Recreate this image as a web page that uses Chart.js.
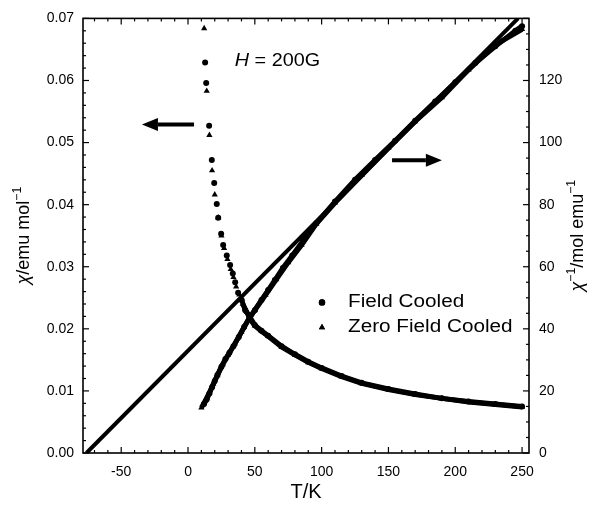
<!DOCTYPE html>
<html>
<head>
<meta charset="utf-8">
<script src="https://cdn.jsdelivr.net/npm/chart.js@4.4.1/dist/chart.umd.min.js"></script>
<style>
  html, body { margin: 0; padding: 0; background: #fff; }
</style>
</head>
<body>
<canvas id="chiChart" width="596" height="505"></canvas>
<script>
// -------------------------------
// Data
// -------------------------------
const xTicks = [-50, 0, 50, 100, 150, 200, 250];
const chiTicks = [0, 0.01, 0.02, 0.03, 0.04, 0.05, 0.06, 0.07];
const invTicks = [0, 20, 40, 60, 80, 100, 120];

// chi (left axis), field cooled
const fcTemps = [12.8, 13.6, 15.8, 17.8, 19.6, 21.5, 22.6, 24.8, 26.3, 29, 31.5, 33.5, 35.3, 37.5, 40.2, 42.8, 46, 50, 55, 60, 70, 80, 90, 100, 115, 130, 150, 170, 190, 210, 230, 250];
const fcChi = [0.0629, 0.0596, 0.0527, 0.0472, 0.0435, 0.0401, 0.0379, 0.0353, 0.0335, 0.0318, 0.0303, 0.0289, 0.0275, 0.0258, 0.0246, 0.0230, 0.0220, 0.0206, 0.0197, 0.0189, 0.0172, 0.0159, 0.0147, 0.0137, 0.0124, 0.0113, 0.0103, 0.0095, 0.0088, 0.0083, 0.0079, 0.0075];

// chi (left axis), zero field cooled
const zfcTemps = [12.1, 14, 16, 18, 20, 22.6, 25, 27, 29.5, 32, 34, 36, 38.5, 41, 44, 47, 50, 55, 60, 70, 80, 90, 100, 115, 130, 150, 170, 190, 210, 230, 250];
const zfcChi = [0.0684, 0.0583, 0.0512, 0.0455, 0.0416, 0.0379, 0.0350, 0.0330, 0.0312, 0.0296, 0.0283, 0.0268, 0.0255, 0.0240, 0.0227, 0.0214, 0.0205, 0.0196, 0.0188, 0.0171, 0.0158, 0.0146, 0.0136, 0.0123, 0.0112, 0.0102, 0.0094, 0.0088, 0.0082, 0.0078, 0.0074];

// inverse chi (right axis)
const fcInvTemps = [12, 14, 16, 18, 20, 22, 25, 28, 31, 34, 38, 42, 46, 50, 55, 60, 65, 71, 78, 86, 96, 110, 125, 140, 155, 170, 185, 200, 215, 230, 245, 250];
const fcInvChi = [15.8, 17.3, 19.2, 21.2, 23.2, 25.1, 27.8, 30.3, 32.3, 34.4, 37.4, 40.6, 43.5, 46.0, 49.3, 52.5, 55.7, 59.6, 63.6, 68.3, 74.0, 81.0, 88.0, 94.4, 100.6, 107.0, 113.2, 119.4, 125.6, 131.0, 136.0, 137.5];
const zfcInvTemps = [10, 13, 16, 19, 22, 26, 30, 35, 40, 45, 50, 58, 66, 75, 85, 96, 110, 130, 150, 170, 190, 210, 230, 250];
const zfcInvChi = [14.6, 16.9, 19.5, 22.3, 25.0, 28.5, 31.6, 35.2, 39.0, 42.8, 46.0, 50.9, 55.9, 61.4, 67.0, 73.8, 80.6, 89.5, 98.3, 106.8, 114.5, 123.5, 131.5, 136.5];

// Curie-Weiss fit line (right axis)
const fitTemps = [-76, 247];
const fitInvChi = [0, 140];

const FONT = '"Liberation Sans", Arial, Helvetica, sans-serif';

const pts = (xs, ys) => xs.map((x, i) => ({ x, y: ys[i] }));

// -------------------------------
// Helpers
// -------------------------------
// parts: [{t, it, sup}], stretch widens glyphs horizontally like the scan
function drawRich(ctx, parts, x, y, size, align, stretch = 1) {
  const fontOf = p => `${p.it ? 'italic ' : ''}${p.sup ? size * 0.68 : size}px ${FONT}`;
  let w = 0;
  parts.forEach(p => { ctx.font = fontOf(p); w += ctx.measureText(p.t).width; });
  ctx.save();
  ctx.translate(x, y);
  ctx.scale(stretch, 1);
  let cx = align === 'center' ? -w / 2 : 0;
  ctx.textAlign = 'left';
  ctx.textBaseline = 'middle';
  parts.forEach(p => {
    ctx.font = fontOf(p);
    ctx.fillText(p.t, cx, p.sup ? -size * 0.36 : 0);
    cx += ctx.measureText(p.t).width;
  });
  ctx.restore();
}

function seg(ctx, x0, y0, x1, y1) {
  ctx.beginPath();
  ctx.moveTo(x0, y0);
  ctx.lineTo(x1, y1);
  ctx.stroke();
}

function arrow(ctx, xTail, xHead, yy) {
  const dir = Math.sign(xHead - xTail);
  const head = 16, hw = 6.5;
  ctx.lineWidth = 4;
  seg(ctx, xTail, yy, xHead - dir * head, yy);
  ctx.beginPath();
  ctx.moveTo(xHead, yy);
  ctx.lineTo(xHead - dir * head, yy - hw);
  ctx.lineTo(xHead - dir * head, yy + hw);
  ctx.closePath();
  ctx.fill();
}

// -------------------------------
// Frame, inward ticks, titles, notes
// -------------------------------
const decorations = {
  id: 'decorations',
  afterDraw(chart) {
    const { ctx, chartArea: a, scales: { x, y, y1 } } = chart;
    ctx.save();
    ctx.strokeStyle = '#000';
    ctx.fillStyle = '#000';

    ctx.lineWidth = 1.6;
    ctx.strokeRect(a.left, a.top, a.right - a.left, a.bottom - a.top);

    ctx.lineWidth = 1.2;
    for (let t = -70; t <= 250; t += 10) {
      const px = x.getPixelForValue(t);
      const len = xTicks.includes(t) ? 6 : 3;
      seg(ctx, px, a.bottom, px, a.bottom - len);
      seg(ctx, px, a.top, px, a.top + len);
    }
    for (let i = 0; i <= 35; i++) {
      const py = y.getPixelForValue(i * 0.002);
      const len = i % 5 === 0 ? 6 : 3;
      seg(ctx, a.left, py, a.left + len, py);
    }
    for (let v = 0; v <= 140; v += 5) {
      const py = y1.getPixelForValue(v);
      const len = v % 20 === 0 ? 6 : 3;
      seg(ctx, a.right, py, a.right - len, py);
    }

    // axis titles
    drawRich(ctx, [{ t: 'T/K' }], (a.left + a.right) / 2, 492, 20, 'center');

    ctx.save();
    ctx.translate(24, (a.top + a.bottom) / 2);
    ctx.rotate(-Math.PI / 2);
    drawRich(ctx, [{ t: 'χ', it: true }, { t: '/emu mol' }, { t: '−1', sup: true }], 0, 0, 18, 'center');
    ctx.restore();

    ctx.save();
    ctx.translate(578, (a.top + a.bottom) / 2);
    ctx.rotate(-Math.PI / 2);
    drawRich(ctx, [{ t: 'χ', it: true }, { t: '−1', sup: true }, { t: '/mol emu' }, { t: '−1', sup: true }], 0, 0, 18, 'center');
    ctx.restore();

    // field note
    drawRich(ctx, [{ t: 'H', it: true }, { t: ' = 200G' }], x.getPixelForValue(35), y.getPixelForValue(0.0632), 18, 'left', 1.1);

    // arrows
    arrow(ctx, x.getPixelForValue(4.5), x.getPixelForValue(-34.5), y.getPixelForValue(0.0529));
    arrow(ctx, x.getPixelForValue(152.7), x.getPixelForValue(190), y1.getPixelForValue(94.3));

    // legend
    const lx = a.left + 239, ly = a.top + 284;
    Chart.helpers.drawPoint(ctx, { pointStyle: 'circle', radius: 3.2, borderWidth: 0 }, lx, ly);
    ctx.fill();
    Chart.helpers.drawPoint(ctx, { pointStyle: 'triangle', radius: 3.6, borderWidth: 0 }, lx, ly + 25);
    ctx.fill();
    drawRich(ctx, [{ t: 'Field Cooled' }], lx + 26, ly, 18, 'left', 1.15);
    drawRich(ctx, [{ t: 'Zero Field Cooled' }], lx + 26, ly + 25, 18, 'left', 1.15);

    ctx.restore();
  }
};

// -------------------------------
// Chart.js
// -------------------------------
const hideSteep = ctx => (ctx.p0.parsed.x < 40 ? 'rgba(0,0,0,0)' : '#000');
const noGrid = { display: false, drawTicks: false };

const chartCanvas = document.getElementById('chiChart');
new Chart(chartCanvas, {
  type: 'scatter',
  data: {
    datasets: [
      {
        label: 'Field Cooled', data: pts(fcTemps, fcChi), yAxisID: 'y',
        pointStyle: 'circle', pointRadius: 3, backgroundColor: '#000', borderColor: '#000', pointBorderWidth: 0,
        showLine: true, borderWidth: 5, segment: { borderColor: hideSteep }
      },
      {
        label: 'Zero Field Cooled', data: pts(zfcTemps, zfcChi), yAxisID: 'y',
        pointStyle: 'triangle', pointRadius: 3.6, backgroundColor: '#000', borderColor: '#000', pointBorderWidth: 0,
        showLine: true, borderWidth: 5, segment: { borderColor: hideSteep }
      },
      {
        label: 'FC inverse', data: pts(fcInvTemps, fcInvChi), yAxisID: 'y1',
        pointStyle: 'circle', pointRadius: 3, backgroundColor: '#000', borderColor: '#000', pointBorderWidth: 0,
        showLine: true, borderWidth: 5
      },
      {
        label: 'ZFC inverse', data: pts(zfcInvTemps, zfcInvChi), yAxisID: 'y1',
        pointStyle: 'triangle', pointRadius: 3.6, backgroundColor: '#000', borderColor: '#000', pointBorderWidth: 0,
        showLine: true, borderWidth: 5
      },
      {
        label: 'Curie-Weiss fit', data: pts(fitTemps, fitInvChi), yAxisID: 'y1',
        pointRadius: 0, borderColor: '#000', borderWidth: 4, showLine: true
      }
    ]
  },
  options: {
    responsive: false,
    animation: false,
    layout: { padding: { top: 18, left: 0, right: 0, bottom: 0 } },
    plugins: { legend: { display: false }, tooltip: { enabled: false } },
    scales: {
      x: {
        type: 'linear', min: -78.6, max: 255.2,
        grid: noGrid, border: { display: false },
        afterBuildTicks: s => { s.ticks = xTicks.map(v => ({ value: v })); },
        afterFit: s => { s.height = 52; },
        ticks: { color: '#000', padding: 11, font: { family: FONT, size: 14 }, callback: v => String(v) }
      },
      y: {
        type: 'linear', position: 'left', min: 0, max: 0.07,
        grid: noGrid, border: { display: false },
        afterBuildTicks: s => { s.ticks = chiTicks.map(v => ({ value: v })); },
        afterFit: s => { s.width = 83; },
        ticks: { color: '#000', padding: 9, font: { family: FONT, size: 14 }, callback: v => v.toFixed(2) }
      },
      y1: {
        type: 'linear', position: 'right', min: 0, max: 140,
        grid: noGrid, border: { display: false },
        afterBuildTicks: s => { s.ticks = invTicks.map(v => ({ value: v })); },
        afterFit: s => { s.width = 67; },
        ticks: { color: '#000', padding: 10, font: { family: FONT, size: 14 }, callback: v => String(v) }
      }
    }
  },
  plugins: [decorations]
});
</script>
</body>
</html>
